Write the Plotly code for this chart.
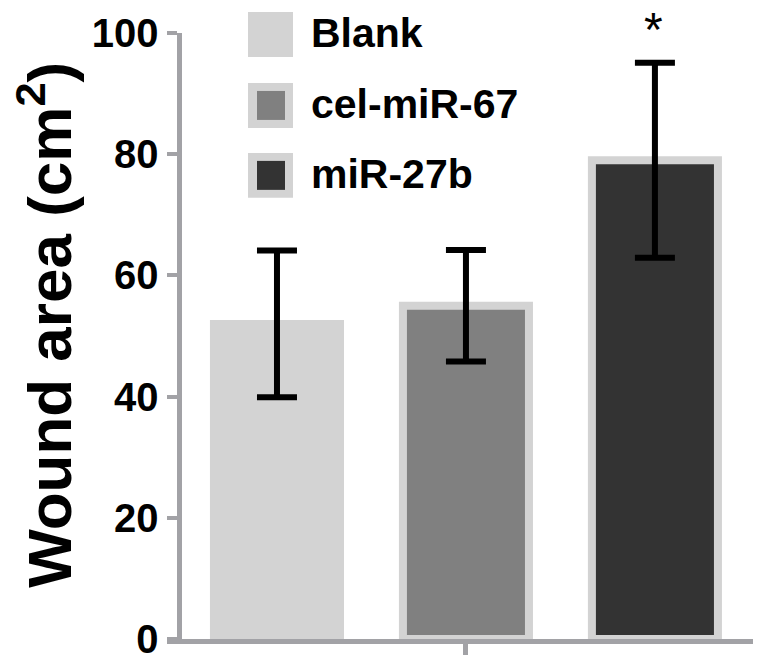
import plotly.graph_objects as go

# data
groups = ["Blank", "cel-miR-67", "miR-27b"]
wound_area = [52, 55, 79]
wound_err = [12.1, 9.2, 16.1]
fill_colors = ["#d3d3d3", "#808080", "#333333"]
edge_color = "#d3d3d3"
axis_gray = "#a2a2a6"
sig_marks = ["", "", "*"]

# the page body has an 8px margin, so the figure is drawn 8px in
OFF = 8
W, H = 763 - OFF, 664 - OFF
L, R, T, B = 167 - OFF, 10, 33 - OFF, 24.5
PW, PH = W - L - R, H - T - B


def px(x):
    # screen pixel -> paper x
    return (x - OFF - L) / PW


def py(y):
    # screen pixel -> paper y
    return (H - B - (y - OFF)) / PH


FONT = "Liberation Sans, Arial, sans-serif"

fig = go.Figure()
fig.add_trace(go.Bar(
    x=[0, 1, 2], y=wound_area,
    width=0.667,
    marker=dict(color=fill_colors, line=dict(color=edge_color, width=8)),
    error_y=dict(type="data", array=wound_err, color="black",
                 thickness=6, width=20),
    showlegend=False,
))

# significance star
for i, s in enumerate(sig_marks):
    if s:
        fig.add_annotation(x=i, y=wound_area[i] + wound_err[i], text=s,
                           showarrow=False, yanchor="middle", xshift=-1,
                           yshift=33,
                           font=dict(family=FONT, size=48, color="black"))

# hand drawn legend (big swatches like the original)
sw_top = [12, 83, 153]
for i, g in enumerate(groups):
    y0 = sw_top[i]
    fig.add_shape(type="rect", xref="paper", yref="paper",
                  x0=px(248), x1=px(293), y0=py(y0), y1=py(y0 + 45),
                  fillcolor=edge_color, line=dict(width=0), layer="above")
    if i > 0:
        fig.add_shape(type="rect", xref="paper", yref="paper",
                      x0=px(257), x1=px(285), y0=py(y0 + 8), y1=py(y0 + 37),
                      fillcolor=fill_colors[i], line=dict(width=0), layer="above")
    fig.add_annotation(xref="paper", yref="paper", x=px(309), y=py(y0 + 21),
                       text=g, showarrow=False, xanchor="left", yanchor="middle",
                       font=dict(family=FONT, size=41, color="black", weight="bold"))

# y title
fig.add_annotation(xref="paper", yref="paper", x=px(45), y=py(325),
                   text="Wound area (cm<sup>2</sup>)", textangle=-90,
                   showarrow=False, xanchor="center", yanchor="middle",
                   font=dict(family=FONT, size=62, color="black", weight="bold"))

fig.update_layout(
    width=W, height=H,
    margin=dict(l=L, r=R, t=T, b=B, autoexpand=False),
    plot_bgcolor="white", paper_bgcolor="white",
    xaxis=dict(range=[-0.582, 2.519], showgrid=False, zeroline=False,
               automargin=False,
               showline=True, linecolor=axis_gray, linewidth=5,
               tickvals=[1], ticktext=[""], ticks="outside", ticklen=11,
               tickwidth=5, tickcolor=axis_gray),
    yaxis=dict(range=[0, 100], showgrid=False, zeroline=False,
               automargin=False,
               anchor="free", position=px(178.5),
               showline=True, linecolor=axis_gray, linewidth=5,
               tickvals=[0, 20, 40, 60, 80, 100], ticks="outside",
               ticklen=10, tickwidth=4, tickcolor=axis_gray,
               tickfont=dict(family=FONT, size=40, color="black", weight="bold")),
)

fig.write_html("out.html")
